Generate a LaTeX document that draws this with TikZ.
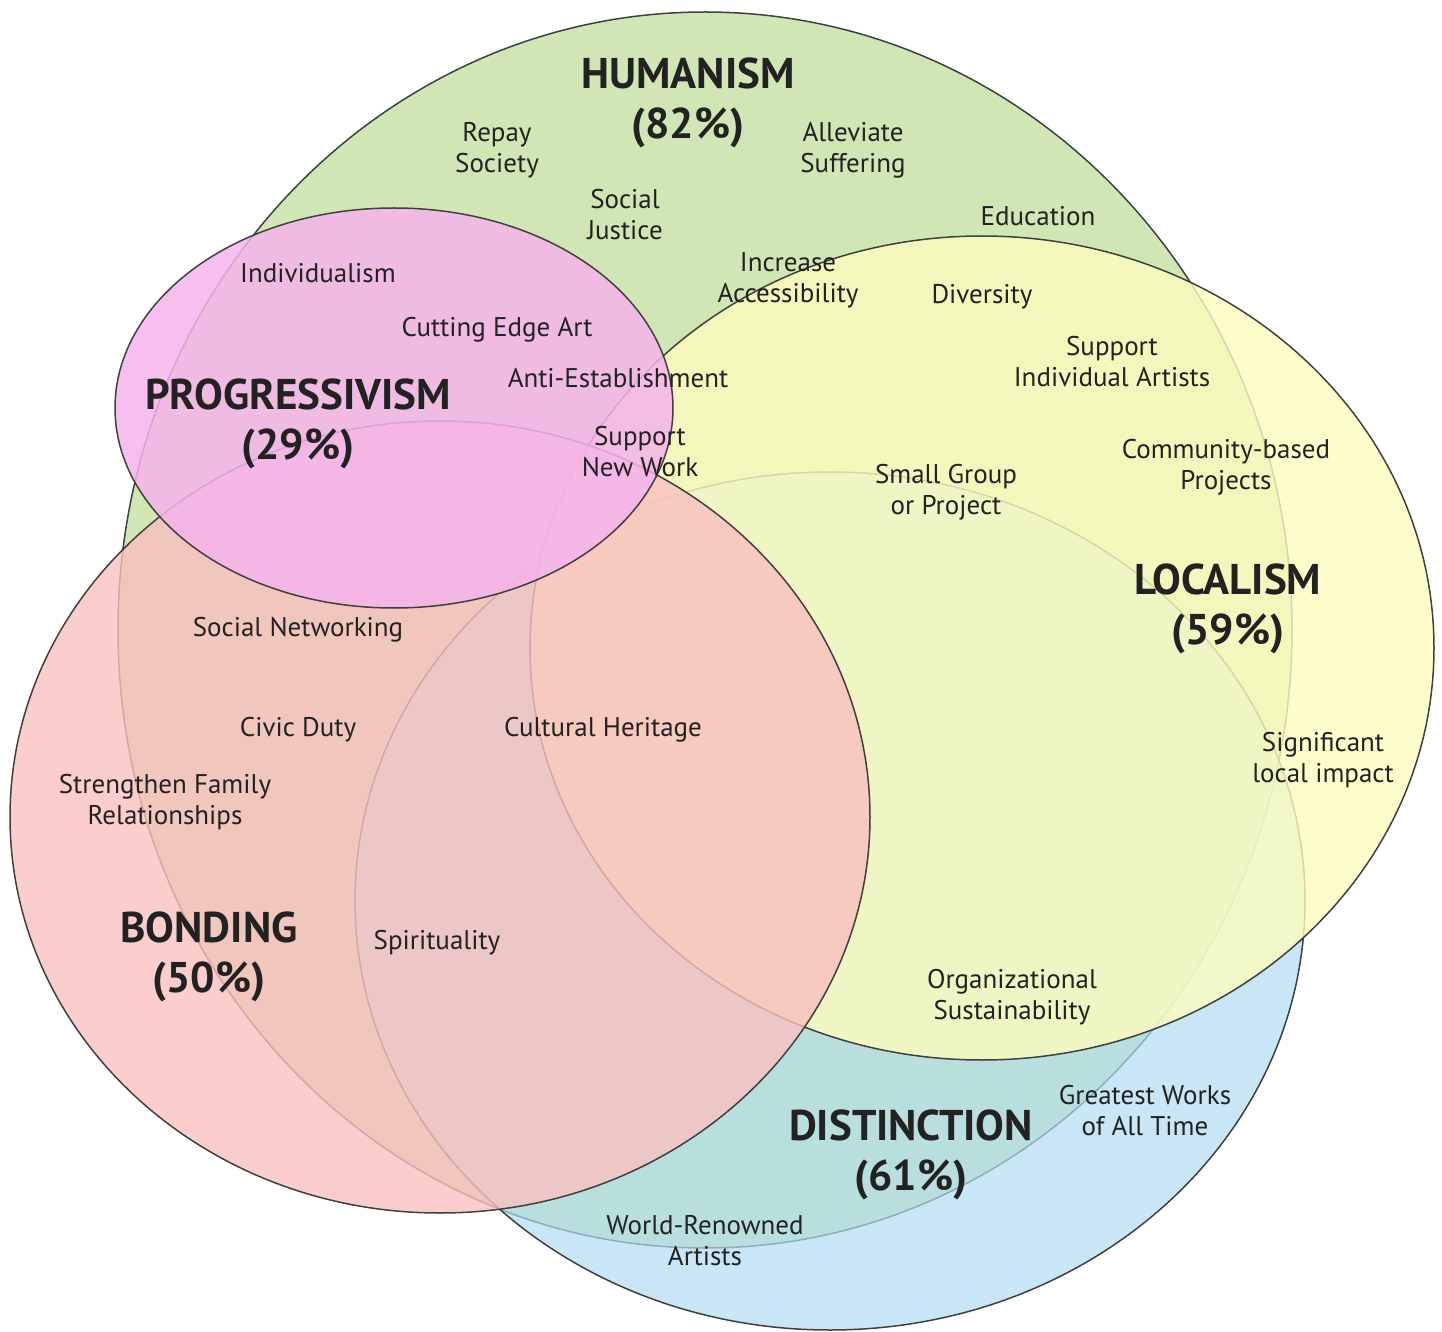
\documentclass[tikz,border=0pt]{standalone}
\usepackage{fontspec}
\setmainfont{PT Sans}
\usepackage{xcolor}
\usepackage{tikz}
\definecolor{vgreen}{HTML}{D0E6B4}
\definecolor{vblue}{HTML}{B0DBF1}
\definecolor{vyellow}{HTML}{FDFCBE}
\definecolor{vred}{HTML}{FAC0C0}
\definecolor{vpink}{HTML}{F5B4EC}
\definecolor{vink}{HTML}{222222}

\begin{document}
\begin{tikzpicture}[x=0.5pt, y=-0.5pt,
  ring/.style={draw=black!75, line width=0.75pt},
  ttl/.style={font=\fontsize{21.5}{25}\selectfont\bfseries, text=vink, align=center, inner sep=0pt},
  lbl/.style={font=\fontsize{13.5}{15.5}\selectfont, text=vink, align=center, inner sep=0pt}]
\useasboundingbox (0,0) rectangle (1442,1332);
% the five sets, bottom to top
\draw[ring, fill=vgreen] (705,630) ellipse [x radius=587, y radius=618];
\draw[ring, fill=vblue, fill opacity=0.7] (830,901) ellipse [x radius=475, y radius=429];
\draw[ring, fill=vyellow, fill opacity=0.8] (982,648) ellipse [x radius=452, y radius=412];
\draw[ring, fill=vred, fill opacity=0.8] (440,817) ellipse [x radius=430, y radius=396];
\draw[ring, fill=vpink, fill opacity=0.85] (394,408) ellipse [x radius=279, y radius=200];
% set names
\node[ttl] (hum) at (688,103) {HUMANISM\\(82\%)};
\node[ttl] (prog) at (298,424) {PROGRESSIVISM\\(29\%)};
\node[ttl] (loc) at (1228,609) {LOCALISM\\(59\%)};
\node[ttl] (bond) at (209,957) {BONDING\\(50\%)};
\node[ttl] (dist) at (911,1155) {DISTINCTION\\(61\%)};
% reasons
\node[lbl] (repay) at (497,150) {Repay\\Society};
\node[lbl] (justice) at (625,215) {Social\\Justice};
\node[lbl] (suffer) at (853,150) {Alleviate\\Suffering};
\node[lbl] (edu) at (1038,216) {Education};
\node[lbl] (access) at (788,280) {Increase\\Accessibility};
\node[lbl] (divers) at (982,297) {Diversity};
\node[lbl] (artists) at (1112,362) {Support\\Individual Artists};
\node[lbl] (commun) at (1226,467) {Community-based\\Projects};
\node[lbl] (small) at (946,492) {Small Group\\or Project};
\node[lbl] (impact) at (1323,760) {Significant\\local impact};
\node[lbl] (indiv) at (318,273) {Individualism};
\node[lbl] (edge) at (497,330) {Cutting Edge Art};
\node[lbl] (anti) at (618,378) {Anti-Establishment};
\node[lbl] (newwork) at (640,452) {Support\\New Work};
\node[lbl] (network) at (298,630) {Social Networking};
\node[lbl] (civic) at (298,730) {Civic Duty};
\node[lbl] (heritage) at (603,730) {Cultural Heritage};
\node[lbl] (family) at (165,802) {Strengthen Family\\Relationships};
\node[lbl] (spirit) at (437,943) {Spirituality};
\node[lbl] (sustain) at (1012,997) {Organizational\\Sustainability};
\node[lbl] (greatest) at (1145,1111) {Greatest Works\\of All Time};
\node[lbl] (renown) at (705,1241) {World-Renowned\\Artists};
\end{tikzpicture}
\end{document}
